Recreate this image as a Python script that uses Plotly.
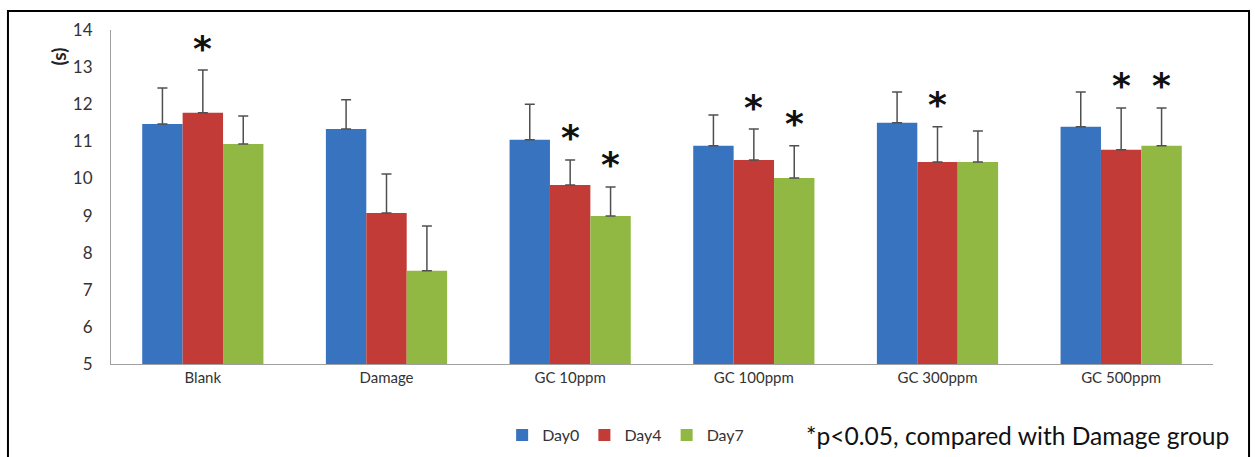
import plotly.graph_objects as go

categories = ["Blank", "Damage", "GC 10ppm", "GC 100ppm", "GC 300ppm", "GC 500ppm"]
series_names = ["Day0", "Day4", "Day7"]
day0 = [11.47, 11.33, 11.04, 10.88, 11.50, 11.39]
day4 = [11.77, 9.07, 9.82, 10.50, 10.44, 10.77]
day7 = [10.93, 7.51, 8.99, 10.01, 10.44, 10.88]
day0_err = [0.97, 0.79, 0.96, 0.83, 0.83, 0.94]
day4_err = [1.15, 1.05, 0.68, 0.83, 0.95, 1.13]
day7_err = [0.75, 1.21, 0.78, 0.87, 0.84, 1.02]
# significance marks (1 = "*")
sig_day4 = [1, 0, 1, 1, 1, 1]
sig_day7 = [0, 0, 1, 1, 0, 1]

colors = ["#3873c0", "#c23b37", "#92b844"]
font = "Lato, 'Open Sans', sans-serif"

fig = go.Figure()
for name, vals, errs, col in zip(series_names, [day0, day4, day7],
                                 [day0_err, day4_err, day7_err], colors):
    fig.add_trace(go.Bar(
        x=categories, y=vals, name=name,
        marker=dict(color=col, line=dict(width=0)),
        error_y=dict(type="data", array=errs, arrayminus=[0] * len(errs),
                     symmetric=False, color="#505050", thickness=1.5, width=5),
    ))

bw = 0.66 / 3
for i in range(len(categories)):
    for sig, vals, errs, off in [(sig_day4, day4, day4_err, 0.0), (sig_day7, day7, day7_err, bw)]:
        if sig[i]:
            fig.add_annotation(x=i + off, y=vals[i] + errs[i], xref="x", yref="y",
                               text="<b>*</b>", showarrow=False, yshift=22, yanchor="middle",
                               font=dict(size=36, color="#111", family="DejaVu Sans"))

fig.add_annotation(x=-0.0599, y=0.955, xref="paper", yref="paper", text="<b>(s)</b>",
                   textangle=-90, showarrow=False, font=dict(size=19, color="#222", family=font))
fig.add_annotation(x=0.6285, y=-0.2126, xref="paper", yref="paper", xanchor="left", yanchor="middle",
                   text="*p<0.05, compared with Damage group", showarrow=False,
                   font=dict(size=24.6, color="#111", family=font))

fig.add_shape(type="rect", xref="paper", yref="paper", x0=-0.0935, x1=1.0327,
              y0=-0.6, y1=1.0569, line=dict(color="black", width=2), layer="above")

fig.update_layout(
    width=1255, height=457,
    margin=dict(l=111, r=42, t=30, b=93, autoexpand=False),
    paper_bgcolor="white", plot_bgcolor="white",
    barmode="group", bargap=0.34, bargroupgap=0,
    font=dict(family=font, size=15, color="#333"),
    legend=dict(orientation="h", x=0.467, xanchor="center", y=-0.2126, yanchor="middle",
                font=dict(size=16, color="#333"), itemwidth=30, traceorder="normal"),
    xaxis=dict(showline=True, linecolor="#a0a0a0", linewidth=1, ticks="",
               tickfont=dict(size=15, color="#333"), showgrid=False, automargin=False),
    yaxis=dict(range=[5, 14], dtick=1, showline=True, linecolor="#a0a0a0", linewidth=1,
               ticks="", showgrid=False, zeroline=False, ticklabelstandoff=14, automargin=False,
               tickfont=dict(size=17, color="#333")),
)

fig.write_html("out.html")
